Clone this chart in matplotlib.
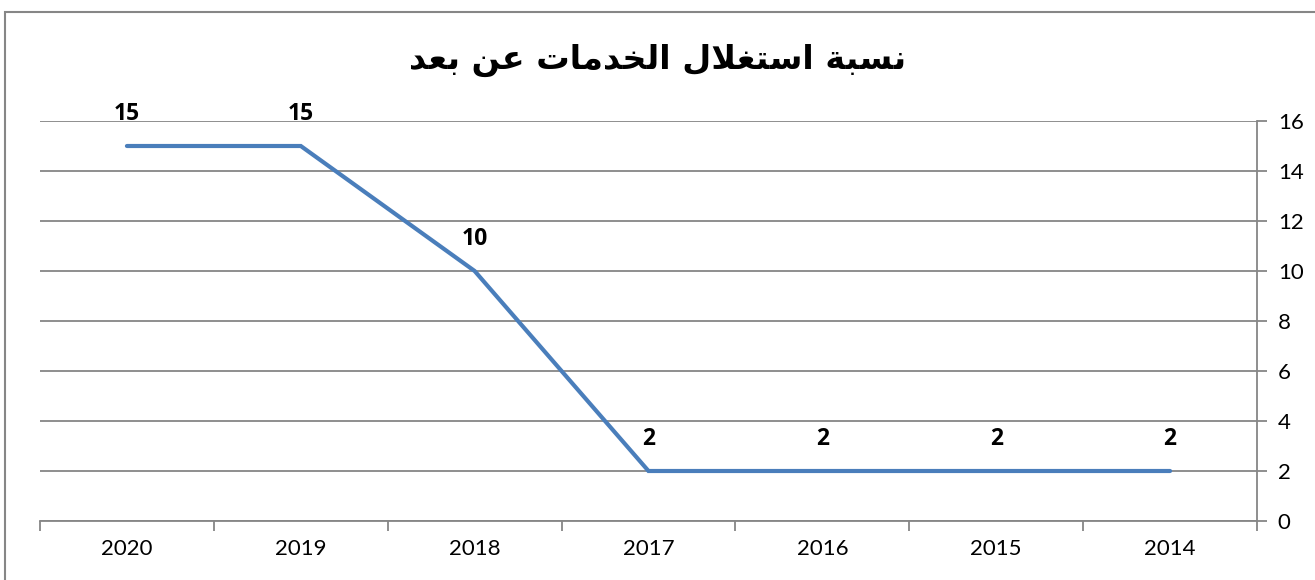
import matplotlib.pyplot as plt
from matplotlib.patches import Rectangle
import numpy as np

# Data (left to right as shown)
years = ['2020', '2019', '2018', '2017', '2016', '2015', '2014']
values = [15, 15, 10, 2, 2, 2, 2]
y_ticks = [0, 2, 4, 6, 8, 10, 12, 14, 16]

# Title in visual order with Arabic presentation forms (no shaping in matplotlib)
TITLE = ('\uFEAA\uFECC\uFE91 \uFEE6\uFECB '
         '\uFE95\uFE8E\uFEE3\uFEAA\uFEA8\uFEDF\uFE8D '
         '\uFEDD\uFEFC\uFED0\uFE98\uFEB3\uFE8D '
         '\uFE94\uFE92\uFEB4\uFEE7')

LINE_COLOR = '#4A7EBB'
GRID_COLOR = '#868686'

plt.rcParams['font.family'] = ['Lato', 'DejaVu Sans']

W, H = 1315, 580
fig = plt.figure(figsize=(W / 100, H / 100), dpi=100)

# outer chart frame
fig.patches.append(Rectangle((5 / W, -0.01), 1.2, (H - 12) / H + 0.01,
                             transform=fig.transFigure, fill=False,
                             edgecolor=GRID_COLOR, linewidth=1.5))

ax = fig.add_axes([40 / W, 1 - 521 / H, (1257 - 40) / W, (521 - 121) / H])
x = np.arange(len(years))
ax.plot(x, values, color=LINE_COLOR, linewidth=3, solid_capstyle='round',
        solid_joinstyle='miter', zorder=3)

for xi, v in zip(x, values):
    ax.annotate(str(v), (xi, v), xytext=(0, 19), textcoords='offset points',
                ha='center', va='baseline', fontsize=16.5, fontweight='bold',
                family=['Open Sans', 'DejaVu Sans'], zorder=4)

ax.set_xlim(-0.5, len(years) - 0.5)
ax.set_ylim(0, 16)
ax.set_yticks(y_ticks)
ax.yaxis.tick_right()
ax.grid(axis='y', color=GRID_COLOR, linewidth=1.3)
ax.set_axisbelow(True)

ax.set_xticks(x)
ax.set_xticklabels(years)
ax.set_xticks(np.arange(-0.5, len(years)), minor=True)
ax.tick_params(axis='x', which='major', length=0, pad=13, labelsize=16)
ax.tick_params(axis='x', which='minor', length=7, width=1.3, color=GRID_COLOR)
ax.tick_params(axis='y', length=7, width=1.3, color=GRID_COLOR, pad=8,
               labelsize=16, right=True, left=False)

for s in ['left', 'top']:
    ax.spines[s].set_visible(False)
for s in ['right', 'bottom']:
    ax.spines[s].set_color(GRID_COLOR)
    ax.spines[s].set_linewidth(1.3)

fig.text(0.5, 1 - 60 / H, TITLE, ha='center', va='center', fontsize=24,
         fontweight='bold', family=['DejaVu Sans'])

fig.savefig('out.png', dpi=100)
